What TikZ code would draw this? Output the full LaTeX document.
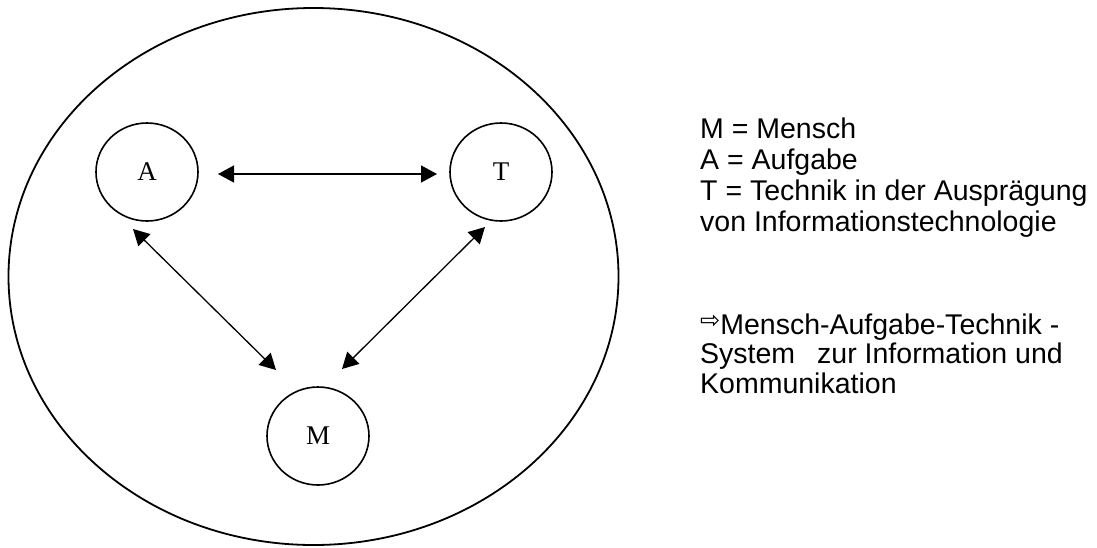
\documentclass[tikz,border=0pt]{standalone}
\usepackage{fontspec}
\setmainfont{Liberation Sans}
\newfontfamily\labelserif{Liberation Serif}
\newfontfamily\arrowglyph{DejaVu Sans}
\usetikzlibrary{arrows.meta,shapes.geometric,calc}
\begin{document}
\begin{tikzpicture}[x=1pt,y=-1pt,
  outer/.style={ellipse, draw, line width=1.8pt, minimum width=610pt, minimum height=537pt, inner sep=0pt},
  part/.style={ellipse, draw, line width=1.6pt, minimum width=102pt, minimum height=98pt, inner sep=0pt,
    font=\labelserif\fontsize{27}{27}\selectfont},
  link/.style={line width=1.3pt, {Triangle[length=16pt,width=17pt]}-{Triangle[length=16pt,width=17pt]}},
  legend/.style={anchor=base west, inner sep=0pt, font=\fontsize{28.5}{31}\selectfont}]
\useasboundingbox (0,0) rectangle (1097,547);
\node[outer] (sys) at (313.5,276.5) {};
\node[part] (A) at (147,172) {A};
\node[part] (T) at (501,172) {T};
\node[part] (M) at (318,436) {M};
\coordinate (aT) at ($(A.center)+(71,2)$);
\coordinate (tA) at ($(T.center)+(-64,2)$);
\coordinate (aM) at ($(A.center)+(-14,57)$);
\coordinate (mA) at ($(M.center)+(-42,-66)$);
\coordinate (tM) at ($(T.center)+(-16,55)$);
\coordinate (mT) at ($(M.center)+(24,-67)$);
\draw[link] (aT) -- (tA);
\draw[link] (aM) -- (mA);
\draw[link] (tM) -- (mT);
\node[legend] (l1) at (700,138.5) {M = Mensch};
\node[legend] (l2) at (700,169.5) {A = Aufgabe};
\node[legend] (l3) at (700,200.5) {T = Technik in der Ausprägung};
\node[legend] (l4) at (700,231.5) {von Informationstechnologie};
\node[legend] (l5) at (700,334) {{\arrowglyph\fontsize{24}{24}\selectfont\raisebox{6pt}{⇨}}Mensch-Aufgabe-Technik -};
\node[legend] (l6) at (700,363.5) {System\hspace{22pt}zur Information und};
\node[legend] (l7) at (700,393) {Kommunikation};
\end{tikzpicture}
\end{document}
